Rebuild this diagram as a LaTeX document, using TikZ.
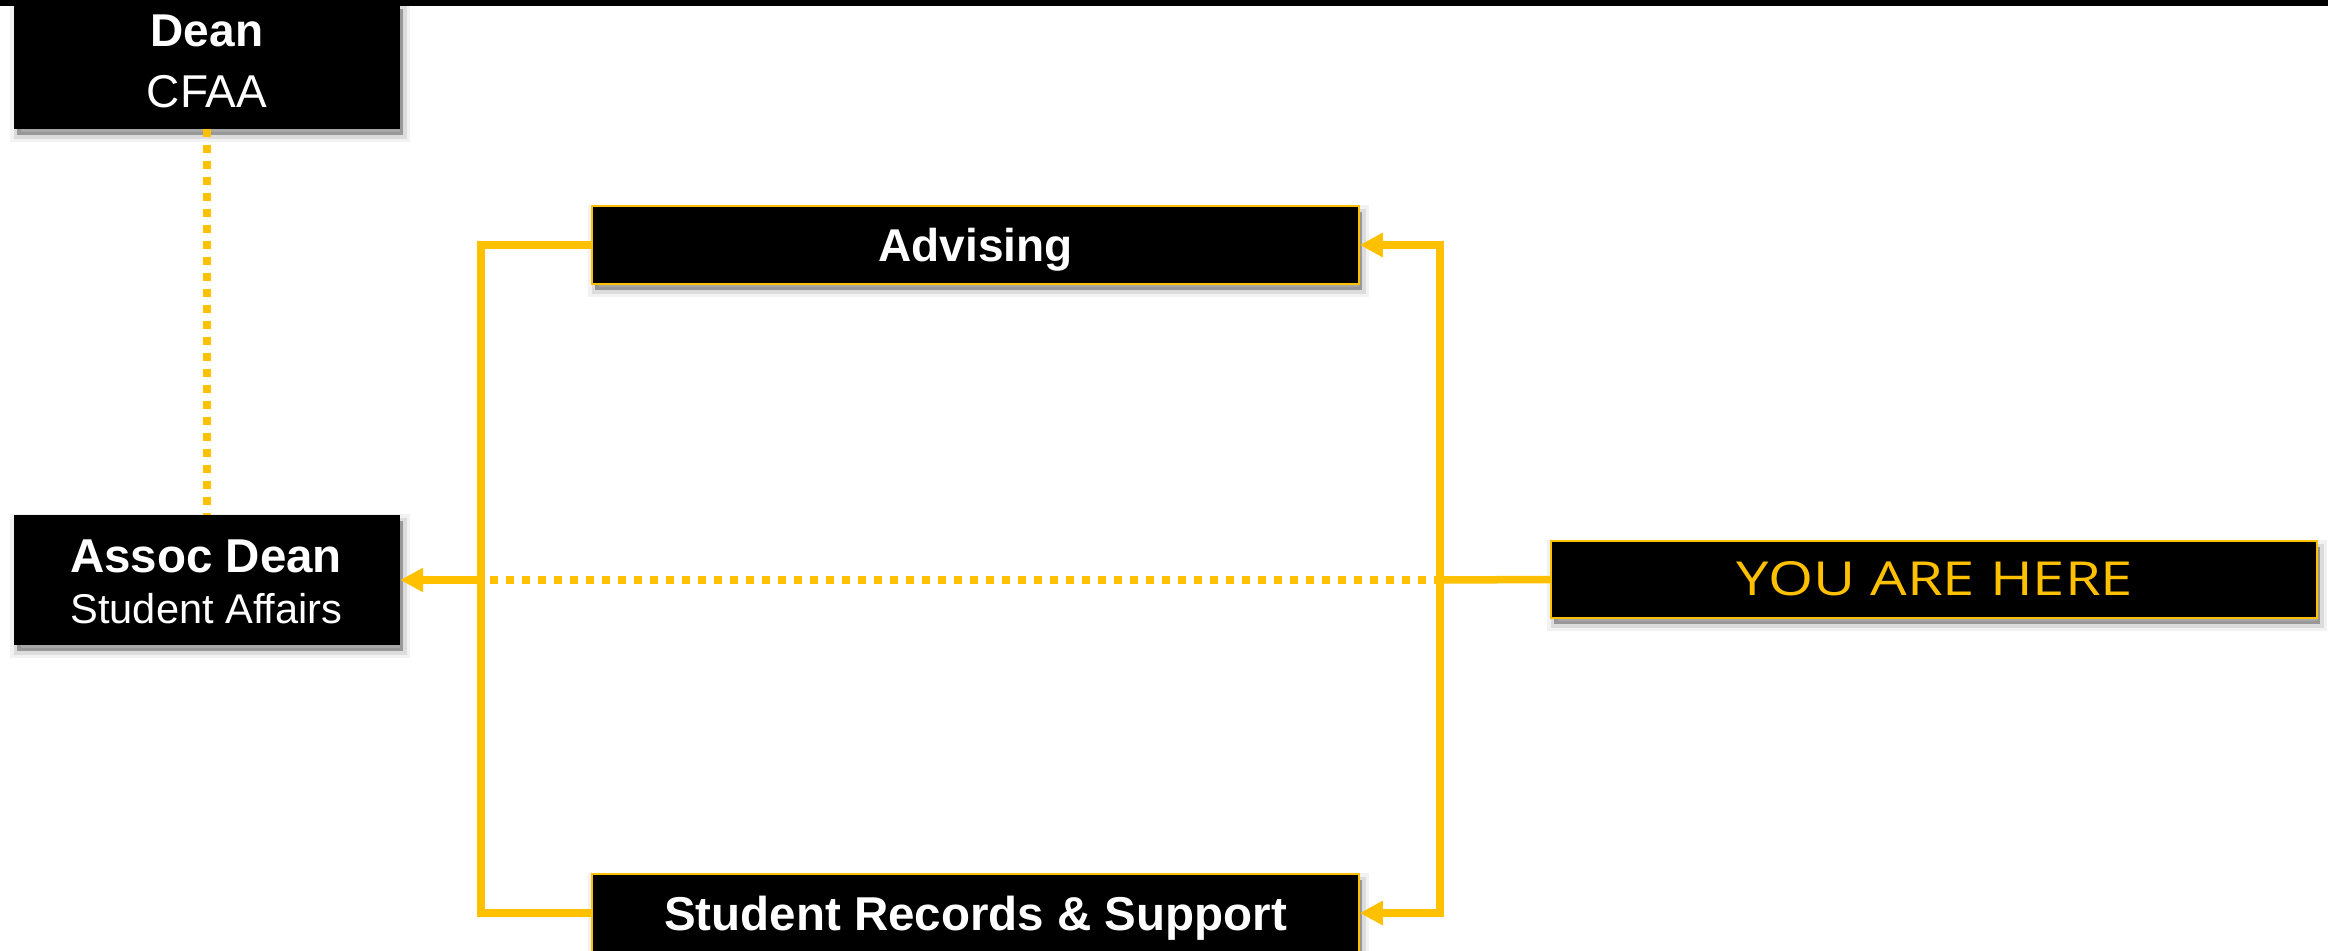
\documentclass[tikz,border=0pt]{standalone}
\usepackage{fontspec}
\setmainfont{Liberation Sans}
\newfontfamily\youfont{Open Sans}
\usetikzlibrary{arrows.meta}
\definecolor{gold}{HTML}{FFC000}
\tikzset{
  shad/.style={
    preaction={fill=black,draw=black,opacity=0.05,line width=14pt,transform canvas={xshift=3pt,yshift=-6pt}},
    preaction={fill=black,draw=black,opacity=0.09,line width=7pt,transform canvas={xshift=3pt,yshift=-6pt}},
    preaction={fill=black,opacity=0.2,transform canvas={xshift=3pt,yshift=-6pt}}},
  leadbox/.style={shad, fill=black, draw=none, inner sep=0pt, minimum width=386pt},
  unitbox/.style={shad, fill=black, draw=gold, line width=1.5pt, inner sep=0pt, minimum width=767pt, minimum height=78pt},
  conn/.style={draw=gold, line width=7.5pt, line join=miter},
  dotconn/.style={draw=gold, line width=7.5pt, dash pattern=on 7.5pt off 8.5pt},
  tipped/.style={-{Triangle[length=23pt,width=23pt]}},
  wtxt/.style={text=white, inner sep=0pt, anchor=base},
  bigb/.style={font=\fontsize{46}{55}\selectfont\bfseries},
  bigr/.style={font=\fontsize{46}{55}\selectfont},
}
\begin{document}
\begin{tikzpicture}[x=1pt,y=-1pt]
\useasboundingbox (0,0) rectangle (2328,950);
% boxes
\node[leadbox, minimum height=126pt] (dean) at (207,66) {};
\node[leadbox, minimum height=130pt] (assoc) at (207,580) {};
\node[unitbox] (adv) at (975.5,245) {};
\node[unitbox] (rec) at (975.5,913) {};
\node[unitbox, minimum width=766pt, minimum height=77pt] (you) at (1934,579.5) {};
% top bar
\fill[black] (0,0) rectangle (2328,6);
% texts
\node[wtxt, bigb] (deant) at (207,47) {Dean};
\node[wtxt, bigr] (cfaat) at (207,107) {CFAA};
\node[wtxt, font=\fontsize{47.5}{55}\selectfont\bfseries] (assoct) at (206,572) {Assoc Dean};
\node[wtxt, font=\fontsize{41.6}{50}\selectfont] (affairst) at (206.5,623) {Student Affairs};
\node[wtxt, bigb] (advt) at (975.5,261.5) {Advising};
\node[wtxt, font=\fontsize{47.5}{55}\selectfont\bfseries] (rect) at (975.5,930) {Student Records \& Support};
\node[inner sep=0pt, anchor=base, text=gold] (yout) at (1935,595)
  {\resizebox{396pt}{34pt}{\youfont YOU ARE HERE}};
% coordinates
\coordinate (lv) at (481,580);
\coordinate (rv) at (1440,580);
\coordinate (dotstart) at (490,580);
% connectors
\draw[dotconn] (dean.south) -- (assoc.north);
\draw[conn] (adv.west) -| (lv) |- (rec.west);
\draw[conn, tipped] (rv) |- (adv.east);
\draw[conn, tipped] (rv) |- (rec.east);
\draw[conn] (you.west) -- (rv);
\draw[dotconn] (dotstart) -- (rv);
\draw[conn, tipped] (lv) -- (assoc.east);
\end{tikzpicture}
\end{document}
